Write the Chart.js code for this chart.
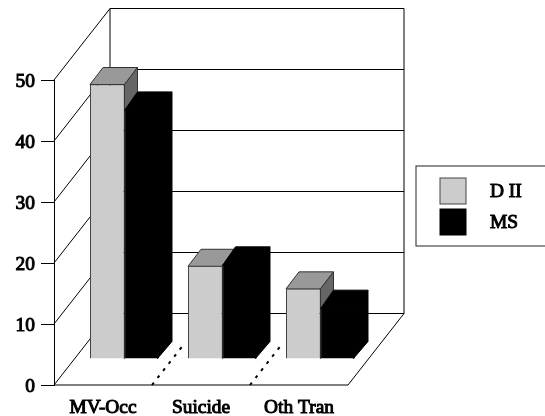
<!DOCTYPE html>
<html>
<head>
<meta charset="utf-8">
<script src="https://cdn.jsdelivr.net/npm/chart.js@4"></script>
<style>
body { margin: 0; background: #fff; }
canvas { display: block; }
</style>
</head>
<body>
<canvas id="chart" width="545" height="416"></canvas>
<script>
const categories = ['MV-Occ', 'Suicide', 'Oth Tran'];
const seriesNames = ['D II', 'MS'];
const dIIValues = [45, 15.2, 11.5];
const msValues = [41, 15.6, 8.5];

const fontSpec = { family: '"Liberation Serif", serif', size: 19.4 };
const fontCss = '19.4px "Liberation Serif", serif';
const textSmear = 1;

// oblique offsets for the fake 3d look
const wallDx = 56, wallDy = 71.5;   // front edge of floor -> back wall
const barDx = 21.5, barDy = 26;     // front edge of floor -> front of the bars
const depthDx = 13, depthDy = 17;   // depth of one bar

function line(ctx, x1, y1, x2, y2) {
    ctx.beginPath();
    ctx.moveTo(x1, y1);
    ctx.lineTo(x2, y2);
    ctx.stroke();
}

function poly(ctx, pts, fill, stroke) {
    ctx.beginPath();
    pts.forEach((p, i) => i ? ctx.lineTo(p[0], p[1]) : ctx.moveTo(p[0], p[1]));
    ctx.closePath();
    ctx.fillStyle = fill;
    ctx.fill();
    ctx.strokeStyle = stroke;
    ctx.lineWidth = 1;
    ctx.stroke();
}

function smearText(ctx, text, x, y) {
    ctx.fillText(text, x, y);
    ctx.strokeText(text, x, y);
}

// top and side face of every bar in one dataset
function drawDepth(chart, index) {
    const ctx = chart.ctx;
    const dark = index === 1;
    // black faces overlap the front a bit or a grey seam shows along the edge
    const lap = dark ? 1.5 : 0;
    chart.getDatasetMeta(index).data.forEach(bar => {
        const x1 = bar.x - bar.width / 2, x2 = bar.x + bar.width / 2;
        const y1 = bar.y, y2 = bar.base;
        poly(ctx, [[x1, y1 + lap], [x1 + depthDx, y1 - depthDy], [x2 + depthDx, y1 - depthDy], [x2, y1 + lap]],
            dark ? '#000' : '#999', dark ? '#000' : '#333');
        poly(ctx, [[x2 - lap, y1], [x2 + depthDx, y1 - depthDy], [x2 + depthDx, y2 - depthDy], [x2 - lap, y2]],
            dark ? '#000' : '#666', dark ? '#000' : '#333');
    });
}

const walls3d = {
    id: 'walls3d',
    beforeDatasetsDraw(chart) {
        const ctx = chart.ctx, xs = chart.scales.x, ys = chart.scales.y;
        const left = xs.left, right = xs.right, bottom = ys.getPixelForValue(0);
        const top = ys.getPixelForValue(50);
        ctx.save();
        ctx.strokeStyle = '#000';
        ctx.lineWidth = 1;
        // gridlines on side wall and back wall
        ys.ticks.forEach(t => {
            const y = ys.getPixelForValue(t.value);
            line(ctx, left, y, left + wallDx, y - wallDy);
            line(ctx, left + wallDx, y - wallDy, right + wallDx, y - wallDy);
        });
        line(ctx, left + wallDx, top - wallDy, left + wallDx, bottom - wallDy);
        line(ctx, right + wallDx, top - wallDy, right + wallDx, bottom - wallDy);
        // floor
        line(ctx, left, bottom, right, bottom);
        line(ctx, right, bottom, right + wallDx, bottom - wallDy);
        // dotted separators between the categories
        ctx.setLineDash([3, 6]);
        ctx.lineWidth = 2;
        for (let i = 1; i < categories.length; i++) {
            const x = (xs.getPixelForValue(i - 1) + xs.getPixelForValue(i)) / 2;
            line(ctx, x, bottom, x + wallDx * 0.56, bottom - wallDy * 0.56);
        }
        ctx.restore();
        // bars stand further back on the floor. chart.js paints the last dataset
        // first, so both sets of depth faces go down before any front face
        ctx.save();
        ctx.translate(barDx, -barDy);
        drawDepth(chart, 0);
        drawDepth(chart, 1);
    },
    afterDatasetsDraw(chart) {
        chart.ctx.restore();
    },
    afterDraw(chart) {
        const ctx = chart.ctx, ys = chart.scales.y;
        ctx.save();
        // y labels sit a little under their tick marks in the original
        ctx.font = fontCss;
        ctx.fillStyle = '#000';
        ctx.lineWidth = textSmear;
        ctx.strokeStyle = '#000';
        ctx.textBaseline = 'middle';
        ctx.textAlign = 'right';
        ys.ticks.forEach(t => smearText(ctx, t.label, 35, ys.getPixelForValue(t.value) + 2));
        ctx.textAlign = 'left';
        // legend box, runs off the right edge like the original
        ctx.lineWidth = 1;
        ctx.strokeStyle = '#222';
        ctx.strokeRect(416, 166, 140, 80);
        chart.data.datasets.forEach((ds, i) => {
            const y = 178 + i * 31;
            ctx.fillStyle = ds.backgroundColor;
            ctx.strokeStyle = ds.borderColor;
            ctx.lineWidth = 1;
            ctx.fillRect(440, y, 26, 26);
            ctx.strokeRect(440, y, 26, 26);
            ctx.fillStyle = '#000';
            ctx.strokeStyle = '#000';
            ctx.lineWidth = textSmear;
            smearText(ctx, ds.label, 490, y + 14);
        });
        ctx.restore();
    }
};

new Chart(document.getElementById('chart').getContext('2d'), {
    type: 'bar',
    data: {
        labels: categories,
        datasets: [{
            label: seriesNames[0],
            data: dIIValues,
            backgroundColor: '#CCCCCC',
            borderColor: '#444',
            borderWidth: 1,
            clip: false
        }, {
            label: seriesNames[1],
            data: msValues,
            backgroundColor: '#000000',
            borderColor: '#000',
            borderWidth: 1,
            clip: false
        }]
    },
    options: {
        responsive: false,
        animation: false,
        events: [],
        layout: { padding: { left: 0, right: 197, top: 80, bottom: 0 } },
        plugins: {
            legend: { display: false },
            title: { display: false },
            tooltip: { enabled: false }
        },
        datasets: { bar: { barPercentage: 1, categoryPercentage: 0.704 } },
        scales: {
            x: {
                grid: { display: false },
                border: { display: false },
                ticks: {
                    color: '#000', font: fontSpec, padding: 3, maxRotation: 0, autoSkip: false,
                    textStrokeColor: '#000', textStrokeWidth: textSmear
                },
                afterFit(scale) { scale.height = 31; }
            },
            y: {
                min: 0,
                max: 50,
                grid: { drawOnChartArea: false, tickLength: 13, tickWidth: 1, color: '#000' },
                border: { color: '#000', width: 1 },
                ticks: { display: false, stepSize: 10 },
                afterFit(scale) { scale.width = 54; }
            }
        }
    },
    plugins: [walls3d]
});
</script>
</body>
</html>
